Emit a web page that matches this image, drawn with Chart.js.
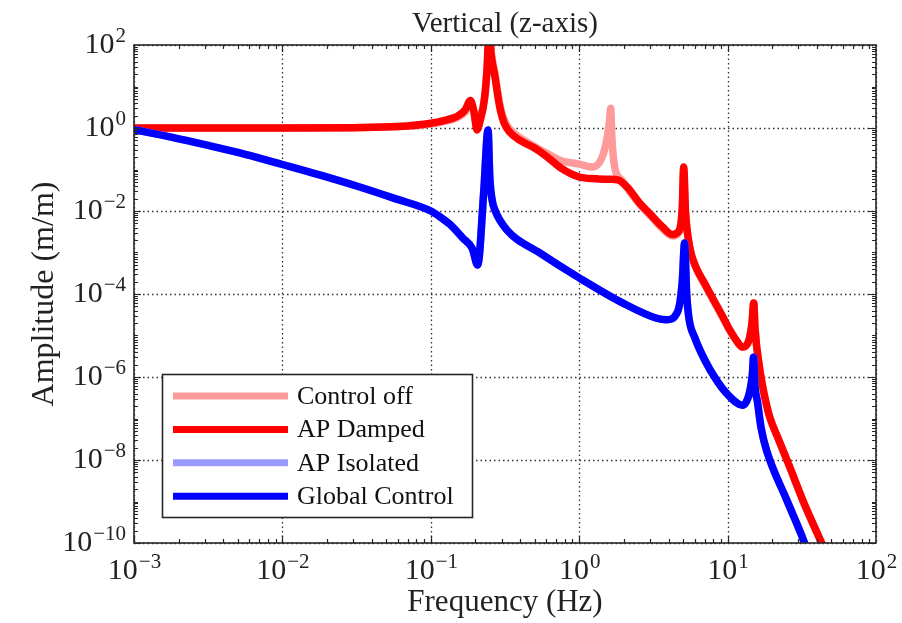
<!DOCTYPE html>
<html>
<head>
<meta charset="utf-8">
<title>Vertical (z-axis)</title>
<script src="https://cdn.jsdelivr.net/npm/chart.js@4.4.1/dist/chart.umd.min.js"></script>
<style>
    html, body { margin: 0; padding: 0; background: #fff; }
    #chart { display: block; }
</style>
</head>
<body>
<canvas id="chart" width="902" height="623"></canvas>
<script>
// Control off (light red)
const freqOff = [0.001, 0.01, 0.03, 0.06, 0.1, 0.13, 0.15, 0.17, 0.185, 0.195, 0.205, 0.215, 0.23, 0.24, 0.247, 0.255, 0.27, 0.29, 0.31, 0.34, 0.4, 0.5, 0.6, 0.75, 1.0, 1.23, 1.42, 1.53, 1.6, 1.63, 1.66, 1.73, 1.93, 2.1, 2.55, 3.0, 3.65, 4.26, 4.7, 4.95, 5.06, 5.2, 5.4, 5.7, 6.2, 7.0, 8.0, 9.0, 10.3, 11.5, 12.6, 13.8, 14.6, 15.0, 15.3, 16.4, 17.6, 19.2, 22, 26.2, 33, 43, 48];
const ampOff = [1.0, 1.0, 1.02, 1.08, 1.25, 1.5, 1.75, 2.4, 4.0, 2.6, 1.0, 1.6, 5.5, 35, 300, 70, 22, 4.2, 1.7, 0.95, 0.58, 0.36, 0.25, 0.165, 0.135, 0.115, 0.19, 0.5, 1.5, 3.0, 0.6, 0.12, 0.056, 0.036, 0.0145, 0.0078, 0.0037, 0.0025, 0.003, 0.011, 0.1, 0.009, 0.0023, 0.00085, 0.00038, 0.00017, 7e-5, 3.3e-5, 1.35e-5, 7.2e-6, 5.2e-6, 7e-6, 2e-5, 6e-5, 1.5e-5, 1.7e-6, 4e-7, 1.1e-7, 3.2e-8, 6.8e-9, 8.5e-10, 1e-10, 4e-11];

// AP Damped (red)
const freqDamped = [0.001, 0.01, 0.03, 0.06, 0.1, 0.13, 0.15, 0.17, 0.185, 0.195, 0.205, 0.215, 0.23, 0.24, 0.247, 0.255, 0.27, 0.29, 0.31, 0.34, 0.4, 0.5, 0.6, 0.75, 1.0, 1.3, 1.6, 1.82, 2.1, 2.55, 3.0, 3.65, 4.26, 4.7, 4.95, 5.06, 5.2, 5.4, 5.7, 6.2, 7.0, 8.0, 9.0, 10.3, 11.5, 12.6, 13.8, 14.6, 15.0, 15.3, 16.4, 17.6, 19.2, 22, 26.2, 33, 43, 48];
const ampDamped = [1.0, 1.0, 1.02, 1.08, 1.3, 1.6, 1.9, 2.7, 4.6, 2.5, 0.9, 1.5, 5, 30, 300, 60, 18, 3.5, 1.4, 0.8, 0.5, 0.33, 0.21, 0.11, 0.066, 0.06, 0.058, 0.056, 0.038, 0.0156, 0.0085, 0.0041, 0.0027, 0.0033, 0.012, 0.115, 0.01, 0.0025, 0.0009, 0.0004, 0.00018, 7.5e-5, 3.5e-5, 1.4e-5, 7.5e-6, 5.3e-6, 7e-6, 2e-5, 6.1e-5, 1.5e-5, 1.7e-6, 4e-7, 1.1e-7, 3.2e-8, 6.8e-9, 8.5e-10, 1e-10, 4e-11];

// Global Control (blue); AP Isolated sits under it
const freqGlobal = [0.001, 0.00178, 0.00316, 0.00562, 0.01, 0.0178, 0.0316, 0.0562, 0.1, 0.1175, 0.135, 0.164, 0.19, 0.207, 0.2275, 0.243, 0.25, 0.26, 0.27, 0.325, 0.542, 1.0, 1.96, 3.33, 3.88, 4.6, 4.95, 5.13, 5.3, 5.5, 6.0, 7.0, 8.4, 10.0, 12.6, 14.0, 14.7, 14.96, 15.3, 15.9, 16.8, 18.3, 25, 33, 36];
const ampGlobal = [0.912, 0.603, 0.38, 0.232, 0.132, 0.0741, 0.04, 0.0204, 0.01, 0.0069, 0.0047, 0.00224, 0.00126, 0.0005, 0.03, 0.9, 0.06, 0.017, 0.0106, 0.0035, 0.00098, 0.000245, 6.1e-5, 2.6e-5, 2.4e-5, 3.7e-5, 2e-4, 0.0017, 1e-4, 2.5e-5, 9e-6, 2.6e-6, 8.5e-7, 3.8e-7, 2.1e-7, 4e-7, 1.2e-6, 3e-6, 6e-7, 2.5e-7, 6e-8, 1.7e-8, 1.1e-9, 1e-10, 4e-11];
const freqIsolated = freqGlobal;
const ampIsolated = ampGlobal;

// Axis decades
const xDecades = [-3, -2, -1, 0, 1, 2];
const yLabelExps = [2, 0, -2, -4, -6, -8, -10];

const seriesNames = ['Control off', 'AP Damped', 'AP Isolated', 'Global Control'];
const seriesColors = ['#ff9a9a', '#ff0000', '#9b9bff', '#0000ff'];

const SERIF = '"Liberation Serif", "DejaVu Serif", serif';
const INK = '#262626';

function toPoints(xs, ys) {
    return xs.map((x, i) => ({ x: x, y: ys[i] }));
}

/**
 * Draw a "10^n" label. align is 'center' or 'right'; y is the baseline.
 */
function drawPow(ctx, exp, x, y, align) {
    const base = '10';
    const sup = exp < 0 ? '\u2212' + (-exp) : String(exp);
    ctx.font = '30px ' + SERIF;
    const wb = ctx.measureText(base).width;
    ctx.font = '21px ' + SERIF;
    const ws = ctx.measureText(sup).width;
    const left = align === 'center' ? x - (wb + ws) / 2 : x - (wb + ws);
    ctx.textAlign = 'left';
    ctx.textBaseline = 'alphabetic';
    ctx.font = '30px ' + SERIF;
    ctx.fillText(base, left, y);
    ctx.font = '21px ' + SERIF;
    ctx.fillText(sup, left + wb + 1, y - 11);
}

/**
 * Dotted grid under the curves
 */
const gridPlugin = {
    id: 'matlabGrid',
    beforeDatasetsDraw: function(chart) {
        const ctx = chart.ctx;
        const a = chart.chartArea;
        const xs = chart.scales.x;
        const ys = chart.scales.y;
        ctx.save();
        ctx.strokeStyle = '#333';
        ctx.lineWidth = 1.3;
        ctx.setLineDash([1.5, 3]);
        xDecades.forEach(function(e) {
            const px = Math.round(xs.getPixelForValue(Math.pow(10, e))) + 0.5;
            ctx.beginPath();
            ctx.moveTo(px, a.top);
            ctx.lineTo(px, a.bottom);
            ctx.stroke();
        });
        yLabelExps.forEach(function(e) {
            const py = Math.round(ys.getPixelForValue(Math.pow(10, e))) + 0.5;
            ctx.beginPath();
            ctx.moveTo(a.left, py);
            ctx.lineTo(a.right, py);
            ctx.stroke();
        });
        ctx.restore();
    }
};

/**
 * Frame, inward ticks, labels, titles and the legend box
 */
const decorPlugin = {
    id: 'matlabDecor',
    afterDatasetsDraw: function(chart) {
        const ctx = chart.ctx;
        const a = chart.chartArea;
        const xs = chart.scales.x;
        const ys = chart.scales.y;
        ctx.save();
        ctx.strokeStyle = INK;
        ctx.fillStyle = INK;
        ctx.lineWidth = 1.2;

        // ticks on all four sides
        ctx.beginPath();
        for (let e = -3; e < 2; e++) {
            for (let k = 1; k <= 9; k++) {
                const len = k === 1 ? 7 : 4;
                const px = Math.round(xs.getPixelForValue(k * Math.pow(10, e))) + 0.5;
                ctx.moveTo(px, a.bottom); ctx.lineTo(px, a.bottom - len);
                ctx.moveTo(px, a.top); ctx.lineTo(px, a.top + len);
            }
        }
        for (let e = -10; e < 2; e++) {
            for (let k = 1; k <= 9; k++) {
                const len = (k === 1 && e % 2 === 0) ? 7 : 4;
                const py = Math.round(ys.getPixelForValue(k * Math.pow(10, e))) + 0.5;
                ctx.moveTo(a.left, py); ctx.lineTo(a.left + len, py);
                ctx.moveTo(a.right, py); ctx.lineTo(a.right - len, py);
            }
        }
        ctx.stroke();

        // frame
        ctx.lineWidth = 1.6;
        ctx.strokeRect(a.left, a.top, a.right - a.left, a.bottom - a.top);

        // tick labels
        ctx.fillStyle = '#222';
        xDecades.forEach(function(e) {
            drawPow(ctx, e, xs.getPixelForValue(Math.pow(10, e)), a.bottom + 36, 'center');
        });
        yLabelExps.forEach(function(e) {
            drawPow(ctx, e, a.left - 9, ys.getPixelForValue(Math.pow(10, e)) + 8, 'right');
        });

        // titles
        ctx.textAlign = 'center';
        ctx.textBaseline = 'alphabetic';
        ctx.font = '29px ' + SERIF;
        ctx.fillText('Vertical (z-axis)', (a.left + a.right) / 2, 32);
        ctx.font = '31px ' + SERIF;
        ctx.fillText('Frequency (Hz)', (a.left + a.right) / 2, 611);
        ctx.font = '32px ' + SERIF;
        ctx.translate(53, (a.top + a.bottom) / 2);
        ctx.rotate(-Math.PI / 2);
        ctx.fillText('Amplitude (m/m)', 0, 0);
        ctx.setTransform(1, 0, 0, 1, 0, 0);

        // legend
        const lx = 162, ly = 374, lw = 310, lh = 143;
        ctx.fillStyle = '#fff';
        ctx.fillRect(lx, ly, lw, lh);
        ctx.strokeStyle = INK;
        ctx.lineWidth = 1.6;
        ctx.strokeRect(lx + 0.5, ly + 0.5, lw, lh);
        ctx.font = '26px ' + SERIF;
        ctx.textAlign = 'left';
        ctx.textBaseline = 'middle';
        seriesNames.forEach(function(name, i) {
            const y = 396 + i * 33.4;
            ctx.strokeStyle = seriesColors[i];
            ctx.lineWidth = 7;
            ctx.beginPath();
            ctx.moveTo(173, y);
            ctx.lineTo(288, y);
            ctx.stroke();
            ctx.fillStyle = '#111';
            ctx.fillText(name, 297, y + 1);
        });
        ctx.restore();
    }
};

const series = [
    { x: freqOff, y: ampOff, order: 3 },
    { x: freqDamped, y: ampDamped, order: 2 },
    { x: freqIsolated, y: ampIsolated, order: 1 },
    { x: freqGlobal, y: ampGlobal, order: 0 }
];

new Chart(document.getElementById('chart'), {
    type: 'line',
    data: {
        datasets: series.map(function(s, i) {
            return {
                label: seriesNames[i],
                data: toPoints(s.x, s.y),
                order: s.order,
                borderColor: seriesColors[i],
                borderWidth: 7.5,
                borderJoinStyle: 'round',
                borderCapStyle: 'round',
                cubicInterpolationMode: 'monotone',
                pointRadius: 0,
                fill: false,
                clip: 0
            };
        })
    },
    options: {
        responsive: false,
        animation: false,
        devicePixelRatio: 1,
        layout: { padding: { left: 0, top: 45, right: 26, bottom: 0 } },
        plugins: {
            legend: { display: false },
            tooltip: { enabled: false },
            title: { display: false }
        },
        scales: {
            x: {
                type: 'logarithmic',
                min: 1e-3,
                max: 1e2,
                ticks: { display: false },
                grid: { display: false },
                border: { display: false },
                afterFit: function(scale) { scale.height = 80; }
            },
            y: {
                type: 'logarithmic',
                min: 1e-10,
                max: 1e2,
                ticks: { display: false },
                grid: { display: false },
                border: { display: false },
                afterFit: function(scale) { scale.width = 134; }
            }
        }
    },
    plugins: [gridPlugin, decorPlugin]
});
</script>
</body>
</html>
